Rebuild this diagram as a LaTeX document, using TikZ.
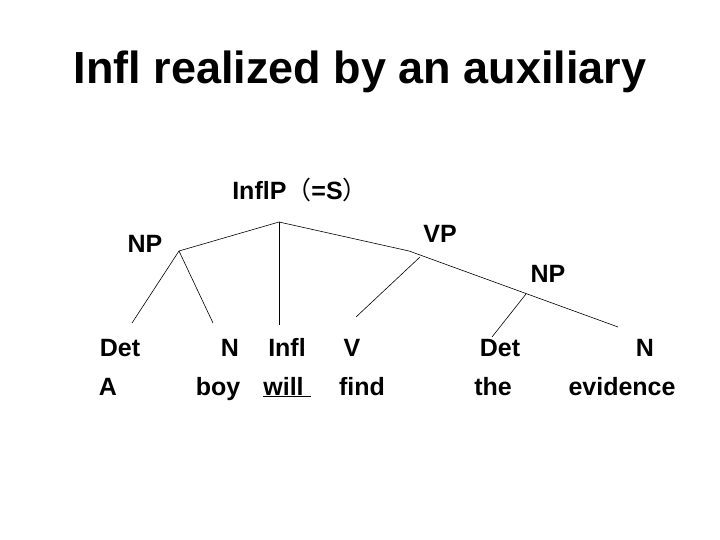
\documentclass[tikz,border=0pt]{standalone}
\usepackage{fontspec}
\setmainfont{Liberation Sans}
\newfontfamily\cjk{Noto Sans CJK SC}
\begin{document}
\begin{tikzpicture}[x=1pt,y=-1pt,
  lab/.style={font=\fontsize{25}{30}\selectfont\bfseries,inner sep=0pt,anchor=base},
  br/.style={line width=0.6pt}]
\useasboundingbox (0,0) rectangle (720,540);
\node[font=\fontsize{45}{50}\selectfont\bfseries,anchor=base] (title) at (360,84) {Infl realized by an auxiliary};
\node[lab] (s) at (300,200) {InflP{\cjk\mdseries （}=S{\cjk\mdseries ）}};
\node[lab] (np1) at (145,252) {NP};
\node[lab] (vp) at (440,242) {VP};
\node[lab] (np2) at (548,282) {NP};
\node[lab] (det1) at (120,356) {Det};
\node[lab] (n1) at (230,356) {N};
\node[lab] (infl) at (287,356) {Infl};
\node[lab] (v) at (352,356) {V};
\node[lab] (det2) at (500,356) {Det};
\node[lab] (n2) at (645,356) {N};
\node[lab] (a) at (108,395) {A};
\node[lab] (boy) at (218,395) {boy};
\node[lab] (will) at (287,395) {\underline{will\ }};
\node[lab] (find) at (362,395) {find};
\node[lab] (the) at (493,395) {the};
\node[lab] (ev) at (622,395) {evidence};
\coordinate (top) at (279,222);
\coordinate (jn1) at (179,251);
\coordinate (jvp) at (409,251);
\coordinate (jvp2) at (420,257);
\coordinate (jnp2) at (526,294);
\coordinate (edet1) at (132,323);
\coordinate (en1) at (213,323);
\coordinate (einfl) at (279,325);
\coordinate (ev) at (356,317);
\coordinate (edet2) at (492,337);
\coordinate (en2) at (618,327);
\draw[br] (jn1) -- (top) -- (jvp) -- (en2);
\draw[br] (top) -- (einfl);
\draw[br] (jn1) -- (edet1);
\draw[br] (jn1) -- (en1);
\draw[br] (jvp2) -- (ev);
\draw[br] (jnp2) -- (edet2);
\end{tikzpicture}
\end{document}
